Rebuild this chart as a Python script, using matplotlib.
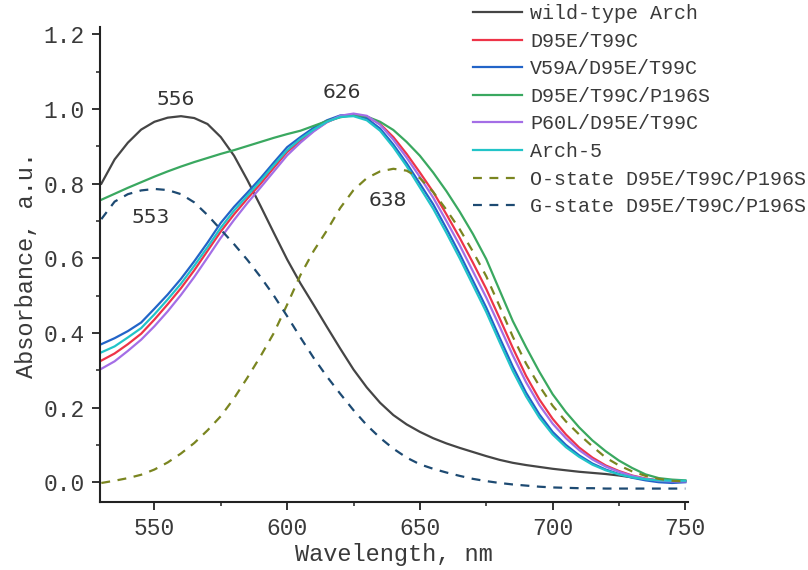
import matplotlib
matplotlib.use("Agg")
import matplotlib.pyplot as plt
from matplotlib.ticker import MultipleLocator

wavelength = [530, 535, 540, 545, 550, 555, 560, 565, 570, 575, 580, 585, 590, 595,
              600, 605, 610, 615, 620, 625, 630, 635, 640, 645, 650, 655, 660, 665,
              670, 675, 680, 685, 690, 695, 700, 705, 710, 715, 720, 725, 730, 735,
              740, 745, 750]

wild_type = [0.800, 0.865, 0.910, 0.945, 0.966, 0.977, 0.981, 0.976, 0.960, 0.925,
             0.875, 0.810, 0.740, 0.668, 0.597, 0.533, 0.475, 0.416, 0.358, 0.302,
             0.254, 0.213, 0.180, 0.155, 0.135, 0.118, 0.104, 0.092, 0.081, 0.070,
             0.060, 0.052, 0.046, 0.041, 0.036, 0.032, 0.028, 0.025, 0.022, 0.018,
             0.013, 0.008, 0.004, 0.003, 0.003]

d95e_t99c = [0.326, 0.345, 0.370, 0.398, 0.436, 0.477, 0.520, 0.568, 0.620, 0.672,
             0.718, 0.760, 0.800, 0.843, 0.885, 0.915, 0.942, 0.965, 0.980, 0.985,
             0.980, 0.960, 0.925, 0.880, 0.830, 0.778, 0.718, 0.655, 0.588, 0.518,
             0.440, 0.360, 0.285, 0.222, 0.170, 0.128, 0.093, 0.066, 0.045, 0.030,
             0.018, 0.010, 0.005, 0.003, 0.003]

v59a = [0.370, 0.386, 0.405, 0.428, 0.465, 0.503, 0.545, 0.592, 0.642, 0.695,
        0.738, 0.776, 0.815, 0.857, 0.898, 0.925, 0.950, 0.970, 0.983, 0.985,
        0.975, 0.948, 0.905, 0.855, 0.800, 0.745, 0.680, 0.612, 0.540, 0.468,
        0.388, 0.310, 0.240, 0.182, 0.135, 0.100, 0.072, 0.050, 0.034, 0.022,
        0.012, 0.005, 0.000, -0.002, 0.000]

p196s = [0.757, 0.773, 0.789, 0.804, 0.819, 0.833, 0.846, 0.858, 0.869, 0.880,
         0.890, 0.901, 0.912, 0.923, 0.933, 0.942, 0.955, 0.968, 0.978, 0.984,
         0.980, 0.966, 0.944, 0.912, 0.875, 0.830, 0.780, 0.725, 0.665, 0.598,
         0.515, 0.432, 0.362, 0.296, 0.236, 0.188, 0.147, 0.112, 0.083, 0.058,
         0.038, 0.021, 0.011, 0.007, 0.005]

p60l = [0.304, 0.324, 0.352, 0.382, 0.418, 0.458, 0.502, 0.550, 0.602, 0.655,
        0.703, 0.748, 0.790, 0.833, 0.876, 0.910, 0.940, 0.965, 0.982, 0.988,
        0.982, 0.958, 0.918, 0.870, 0.818, 0.763, 0.700, 0.635, 0.565, 0.495,
        0.418, 0.340, 0.268, 0.207, 0.157, 0.118, 0.086, 0.061, 0.042, 0.028,
        0.017, 0.009, 0.004, 0.002, 0.002]

arch5 = [0.348, 0.364, 0.388, 0.413, 0.450, 0.490, 0.532, 0.580, 0.630, 0.682,
         0.728, 0.768, 0.808, 0.850, 0.890, 0.920, 0.945, 0.966, 0.979, 0.981,
         0.970, 0.942, 0.898, 0.847, 0.790, 0.733, 0.668, 0.600, 0.528, 0.456,
         0.376, 0.298, 0.230, 0.173, 0.128, 0.094, 0.068, 0.047, 0.032, 0.021,
         0.013, 0.008, 0.005, 0.004, 0.004]

o_state = [-0.002, 0.004, 0.011, 0.020, 0.034, 0.053, 0.077, 0.105, 0.139, 0.177,
           0.225, 0.280, 0.338, 0.400, 0.476, 0.555, 0.620, 0.675, 0.735, 0.783,
           0.815, 0.833, 0.840, 0.835, 0.815, 0.778, 0.730, 0.678, 0.618, 0.552,
           0.472, 0.390, 0.318, 0.258, 0.205, 0.163, 0.128, 0.096, 0.066, 0.045,
           0.029, 0.017, 0.009, 0.004, 0.002]

g_state = [0.705, 0.752, 0.772, 0.782, 0.786, 0.783, 0.772, 0.750, 0.716, 0.677,
           0.638, 0.596, 0.550, 0.500, 0.445, 0.388, 0.333, 0.283, 0.237, 0.193,
           0.153, 0.119, 0.090, 0.066, 0.048, 0.036, 0.026, 0.017, 0.009, 0.003,
           -0.002, -0.006, -0.009, -0.012, -0.014, -0.015, -0.016, -0.016, -0.017,
           -0.017, -0.017, -0.017, -0.017, -0.017, -0.017]

labels = ["wild-type Arch", "D95E/T99C", "V59A/D95E/T99C", "D95E/T99C/P196S",
          "P60L/D95E/T99C", "Arch-5", "O-state D95E/T99C/P196S",
          "G-state D95E/T99C/P196S"]

peak_labels = ["556", "626", "553", "638"]
peak_pos = [(558, 1.026), (620.5, 1.045), (548.5, 0.71), (638, 0.754)]

series = [wild_type, d95e_t99c, v59a, p196s, p60l, arch5, o_state, g_state]
colors = ["#454545", "#ee3448", "#2264c8", "#3aa860", "#a46ee6", "#22c4c8",
          "#7a8520", "#1d4a72"]
dash = (0, (4.0, 3.4))
styles = ["-", "-", "-", "-", "-", "-", dash, dash]

fig = plt.figure(figsize=(8.08, 5.70), dpi=100)
ax = fig.add_axes([100 / 808, (570 - 502) / 570, 588 / 808, 475 / 570])

for ys, c, ls, lab in zip(series, colors, styles, labels):
    ax.plot(wavelength, ys, color=c, linestyle=ls, linewidth=1.6, label=lab,
            solid_joinstyle="round")

ax.set_xlim(529.5, 751)
ax.set_ylim(-0.053, 1.22)
ax.xaxis.set_minor_locator(MultipleLocator(25))
ax.yaxis.set_minor_locator(MultipleLocator(0.1))
ax.set_yticks([0.0, 0.2, 0.4, 0.6, 0.8, 1.0, 1.2])
ax.set_yticklabels(["0.0", "0.2", "0.4", "0.6", "0.8", "1.0", "1.2"])
ax.set_xticks([550, 600, 650, 700, 750])

txtc = "#3a3a3a"
for s in ["top", "right"]:
    ax.spines[s].set_visible(False)
for s in ["left", "bottom"]:
    ax.spines[s].set_linewidth(1.5)
    ax.spines[s].set_color("#222222")
ax.tick_params(which="major", direction="out", length=6, width=1.3, pad=5,
               colors="#222222", labelcolor=txtc)
ax.tick_params(which="minor", direction="out", length=3, width=1.1, colors="#222222")
for t in ax.get_xticklabels() + ax.get_yticklabels():
    t.set_fontfamily("Liberation Mono")
    t.set_fontsize(16.5)

ax.set_xlabel("Wavelength, nm", fontfamily="Liberation Mono", fontsize=17,
              color=txtc, labelpad=2)
ax.set_ylabel("Absorbance, a.u.", fontfamily="Liberation Mono", fontsize=17,
              color=txtc, labelpad=4)

for lab, (x, y) in zip(peak_labels, peak_pos):
    ax.text(x, y, lab, ha="center", va="center", fontsize=14.5,
            fontfamily="DejaVu Sans", color="#333333")

leg = ax.legend(loc="upper left", bbox_to_anchor=(473 / 808, 1 - 4 / 570),
                bbox_transform=fig.transFigure, frameon=False,
                prop={"family": "Liberation Mono", "size": 14.4},
                handlelength=2.45, handletextpad=0.4, labelspacing=0.43,
                borderpad=0, borderaxespad=0)
for t in leg.get_texts():
    t.set_color(txtc)

fig.savefig("out.png", dpi=100)
